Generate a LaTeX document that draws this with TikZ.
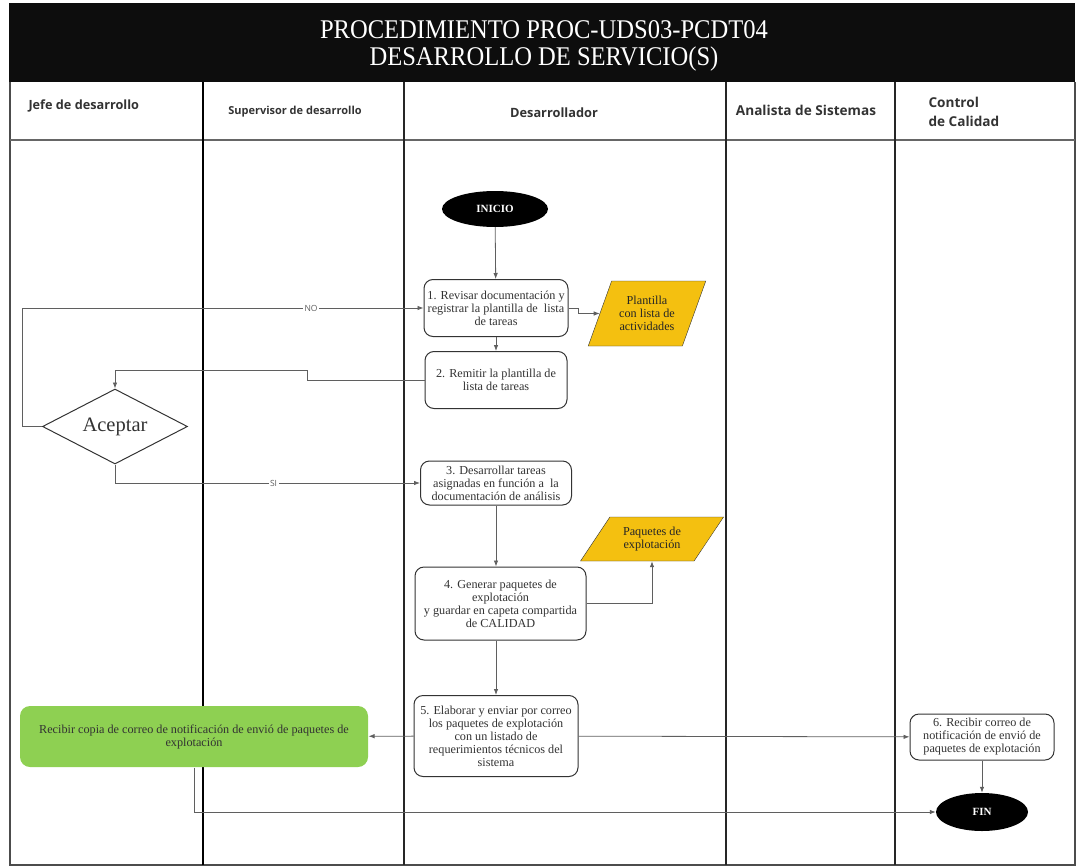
\documentclass[tikz,border=0pt]{standalone}
\usepackage{fontspec}
\setmainfont{Liberation Serif}
\newfontfamily\lanefont{Open Sans}
\usetikzlibrary{shapes.geometric,arrows.meta}
\definecolor{docyellow}{RGB}{244,192,16}
\definecolor{taskgreen}{RGB}{142,208,82}
\definecolor{flowgray}{RGB}{95,95,95}
\begin{document}
\begin{tikzpicture}[x=1pt,y=-1pt,
    task/.style = {draw=black!80, line width=1pt, rounded corners=9pt, fill=white, align=center,
      text=black!80, font=\fontsize{12.2}{13}\selectfont, inner sep=1pt},
    term/.style = {ellipse, fill=black, text=white, font=\fontsize{11}{12}\selectfont\bfseries, inner sep=0pt},
    doc/.style = {trapezium, trapezium stretches=true, draw=black!80, fill=docyellow, align=center,
      text=black!85, font=\fontsize{12.2}{13}\selectfont, inner sep=0pt},
    flow/.style = {draw=flowgray, line width=0.8pt, -{Latex[length=6pt,width=4.5pt]}},
    lbl/.style = {fill=white, text=flowgray, font=\lanefont\fontsize{8.5}{9}\selectfont, inner sep=1.5pt},
    lane/.style = {line width=2pt, draw=black!85},
    head/.style = {text=black!80}]
  \useasboundingbox (0,0) rectangle (1081,867);

  % cabecera y carriles
  \fill[black!95] (9,3) rectangle (1075,82);
  \node[text=white, align=center, xscale=0.91, font=\fontsize{27}{27}\selectfont] (titulo) at (544,46)
    {PROCEDIMIENTO PROC-UDS03-PCDT04\\DESARROLLO DE SERVICIO(S)};
  \draw[black!70, line width=1.2pt] (10,82) -- (10,865) -- (1075,865) -- (1075,82);
  \draw[black!60, line width=1.5pt] (10,140) -- (1075,140);
  \draw[lane, line width=2.6pt, black] (203,82) -- (203,865);
  \draw[lane] (404,82) -- (404,865);
  \draw[lane] (726,82) -- (726,865);
  \draw[lane] (895,82) -- (895,865);

  \node[head, anchor=base west, font=\lanefont\bfseries\fontsize{12.7}{14}\selectfont] (jefe) at (25,109)
    {Jefe de desarrollo};
  \node[head, anchor=base, font=\lanefont\bfseries\fontsize{11}{12}\selectfont] (supervisor) at (295,114)
    {Supervisor de desarrollo};
  \node[head, anchor=base, font=\lanefont\bfseries\fontsize{12.8}{14}\selectfont] (desarrollador) at (554,117)
    {Desarrollador};
  \node[head, anchor=base, font=\lanefont\bfseries\fontsize{13.6}{14}\selectfont] (analista) at (806,115)
    {Analista de Sistemas};
  \node[head, anchor=base west, align=left, font=\lanefont\bfseries\fontsize{13.6}{19}\selectfont] (control)
    at (925,126) {Control\\ de Calidad};

  % nodos del flujo
  \node[term, minimum width=106pt, minimum height=36pt] (inicio) at (495,209) {INICIO};
  \node[task, minimum width=144pt, minimum height=57pt] (revisar) at (496,308)
    {1. Revisar documentación y\\registrar la plantilla de~ lista\\de tareas};
  \node[doc, trapezium left angle=62, trapezium right angle=118, minimum width=118pt, minimum height=65pt]
    (plantilla) at (647,313.5) {Plantilla\\con lista de\\actividades};
  \node[task, minimum width=142pt, minimum height=57pt] (remitir) at (496,380)
    {2. Remitir la plantilla de\\lista de tareas};
  \node[diamond, draw=black!80, line width=1pt, aspect=1.93, minimum width=145pt, minimum height=75pt,
    inner sep=0pt, text=black!80, font=\fontsize{20.5}{22}\selectfont] (aceptar) at (115,426.5) {Aceptar};
  \node[task, minimum width=151pt, minimum height=44pt] (desarrollar) at (496,483)
    {3. Desarrollar tareas\\asignadas en función a~ la\\documentación de análisis};
  \node[doc, trapezium left angle=50, trapezium right angle=130, minimum width=144pt, minimum height=44pt]
    (paquetes) at (652,539) {Paquetes de\\explotación};
  \node[task, minimum width=171pt, minimum height=73pt] (generar) at (500.5,603.5)
    {4. Generar paquetes de\\explotación\\y guardar en capeta compartida\\de CALIDAD};
  \node[task, minimum width=164pt, minimum height=81pt] (elaborar) at (496,736)
    {5. Elaborar y enviar por correo\\los paquetes de explotación\\con un listado de\\requerimientos técnicos del\\sistema};
  \node[task, draw=none, fill=taskgreen, rounded corners=10pt, minimum width=348pt, minimum height=61pt]
    (copia) at (194,736.5)
    {Recibir copia de correo de notificación de envió de paquetes de\\explotación};
  \node[task, minimum width=144pt, minimum height=46pt] (recibir) at (982,737)
    {6. Recibir correo de\\notificación de envió de\\paquetes de explotación};
  \node[term, minimum width=92pt, minimum height=38pt] (fin) at (982,812) {FIN};

  % conectores
  \draw[flow] (inicio) -- (revisar);
  \draw[flow] (revisar.east) -- ++(10,0) |- (plantilla);
  \draw[flow] (revisar) -- (remitir);
  \draw[flow] (remitir.west) -| (307,370) -| (aceptar.north);
  \draw[flow] (aceptar.west) -- (22,426.5) -- (22,308) -- node[lbl, pos=0.72] {NO} (revisar.west);
  \draw[flow] (aceptar.south) |- node[lbl, pos=0.76] {SI} (desarrollar.west);
  \draw[flow] (desarrollar) -- (desarrollar |- generar.north);
  \draw[flow] (generar.east) -| (paquetes.south);
  \draw[flow] (elaborar |- generar.south) -- (elaborar);
  \draw[flow] (elaborar) -- (copia);
  \draw[flow] (elaborar) -- (recibir);
  \draw[flow] (recibir) -- (fin);
  \draw[flow] (copia.south) |- (fin);

\end{tikzpicture}
\end{document}
